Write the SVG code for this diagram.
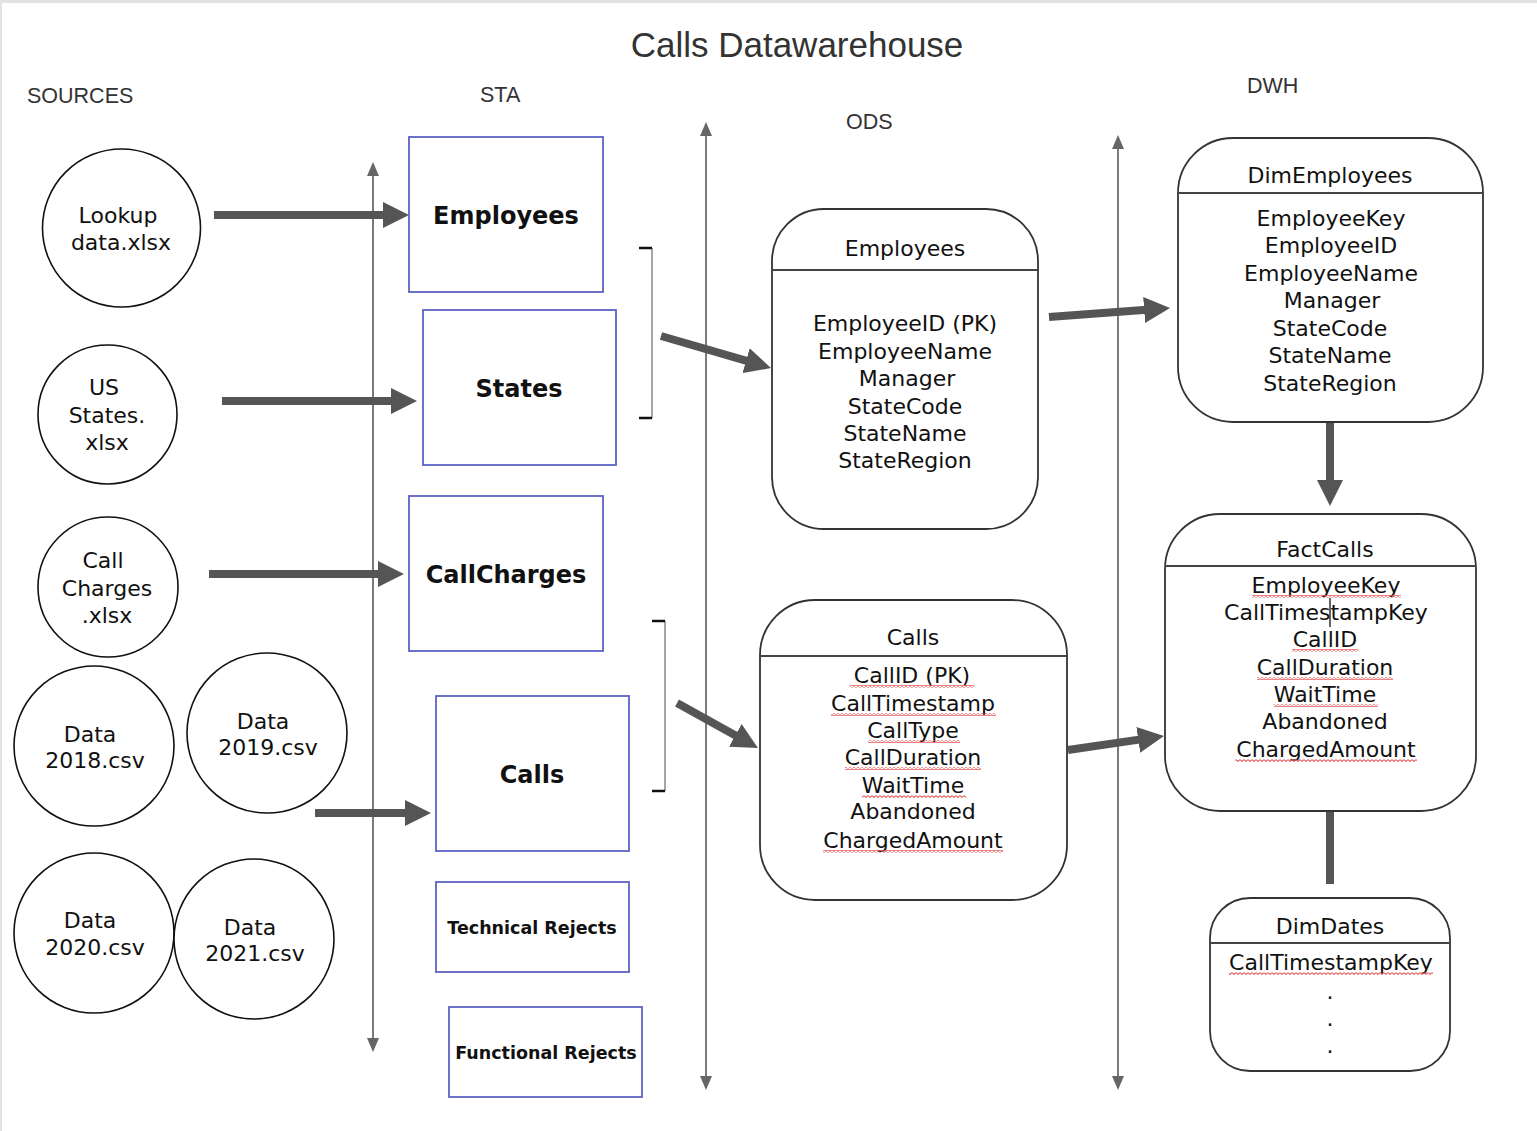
<svg xmlns="http://www.w3.org/2000/svg" width="1537" height="1131" viewBox="0 0 1537 1131">
<style>
.lbl{font-family:"Liberation Sans",Arial,sans-serif;font-size:21.5px;fill:#333}
.title{font-family:"Liberation Sans",Arial,sans-serif;font-size:35px;fill:#333}
.src{fill:#fff;stroke:#111;stroke-width:1.6}
.t{font-family:"DejaVu Sans",Verdana,sans-serif;font-size:22px;fill:#111;text-anchor:middle}
.sta{fill:#fff;stroke:#5c62c4;stroke-width:1.8}
.b{font-family:"DejaVu Sans",Verdana,sans-serif;font-weight:bold;font-size:24px;fill:#111;text-anchor:middle}
.bs{font-family:"DejaVu Sans",Verdana,sans-serif;font-weight:bold;font-size:17.5px;fill:#111;text-anchor:middle}
.ent{fill:#fff;stroke:#333;stroke-width:1.8}
.hdr{stroke:#444;stroke-width:1.8}
.axis{stroke:#7a7a7a;stroke-width:2;fill:none}
.thick{stroke:#555;stroke-width:8;fill:none}
.brk{stroke:#888;stroke-width:1.5;fill:none}
.tick{stroke:#111;stroke-width:2.5}
.sq{fill:url(#sq)}
</style>
<defs>
<marker id="ah" viewBox="0 0 26 26" markerWidth="26" markerHeight="26" refX="6" refY="13" markerUnits="userSpaceOnUse" orient="auto"><path d="M0,0 L26,13 L0,26 z" fill="#555"/></marker>
<marker id="ax" viewBox="0 0 14 12" markerWidth="14" markerHeight="12" refX="4" refY="6" markerUnits="userSpaceOnUse" orient="auto-start-reverse"><path d="M0,0 L14,6 L0,12 z" fill="#666"/></marker>
<pattern id="sq" width="4" height="3" patternUnits="userSpaceOnUse"><path d="M0,0.6 L2,2.4 L4,0.6" stroke="#e85a5a" stroke-width="1.1" fill="none"/></pattern>
</defs>
<rect x="0" y="0" width="1537" height="1131" fill="#fff"/>
<line x1="0" y1="1.5" x2="1537" y2="1.5" stroke="#e2e2e2" stroke-width="3"/>
<line x1="1" y1="0" x2="1" y2="1131" stroke="#e2e2e2" stroke-width="2"/>

<text class="title" x="797" y="57" text-anchor="middle">Calls Datawarehouse</text>
<text class="lbl" x="27" y="103">SOURCES</text>
<text class="lbl" x="480" y="102">STA</text>
<text class="lbl" x="846" y="129">ODS</text>
<text class="lbl" x="1247" y="93">DWH</text>

<g id="connectors">
<line class="axis" x1="373" y1="172" x2="373" y2="1042" marker-start="url(#ax)" marker-end="url(#ax)"/>
<line class="axis" x1="706" y1="132" x2="706" y2="1080" marker-start="url(#ax)" marker-end="url(#ax)"/>
<line class="axis" x1="1118" y1="145" x2="1118" y2="1080" marker-start="url(#ax)" marker-end="url(#ax)"/>
<line class="thick" x1="214" y1="215" x2="389" y2="215" marker-end="url(#ah)"/>
<line class="thick" x1="222" y1="401" x2="397" y2="401" marker-end="url(#ah)"/>
<line class="thick" x1="209" y1="574" x2="384" y2="574" marker-end="url(#ah)"/>
<line class="thick" x1="315" y1="813" x2="411" y2="813" marker-end="url(#ah)"/>
<line class="thick" x1="661" y1="336" x2="751.8" y2="362.4" marker-end="url(#ah)"/>
<line class="thick" x1="677" y1="703" x2="740.5" y2="738.3" marker-end="url(#ah)"/>
<line class="thick" x1="1049" y1="317" x2="1150.1" y2="309.5" marker-end="url(#ah)"/>
<line class="thick" x1="1068" y1="750" x2="1144.2" y2="738.9" marker-end="url(#ah)"/>
<line class="thick" x1="1330" y1="423" x2="1330" y2="486" marker-end="url(#ah)"/>
<line class="thick" x1="1330" y1="811" x2="1330" y2="884"/>
<path class="brk" d="M652,248 V418"/>
<line class="tick" x1="639" y1="248" x2="652" y2="248"/>
<line class="tick" x1="639" y1="418" x2="652" y2="418"/>
<path class="brk" d="M665,621 V791"/>
<line class="tick" x1="652" y1="621" x2="665" y2="621"/>
<line class="tick" x1="652" y1="791" x2="665" y2="791"/>
</g>

<g id="src-lookup"><circle class="src" cx="121.5" cy="228" r="79"/><text class="t" x="118" y="223">Lookup</text><text class="t" x="121" y="250">data.xlsx</text></g>
<g id="src-usstates"><circle class="src" cx="107.5" cy="414.5" r="69.5"/><text class="t" x="104" y="395">US</text><text class="t" x="107" y="423">States.</text><text class="t" x="107" y="450">xlsx</text></g>
<g id="src-callcharges"><circle class="src" cx="108" cy="587" r="70"/><text class="t" x="103" y="568">Call</text><text class="t" x="107" y="596">Charges</text><text class="t" x="107" y="623">.xlsx</text></g>
<g id="src-2018"><circle class="src" cx="94" cy="746" r="80"/><text class="t" x="90" y="742">Data</text><text class="t" x="95" y="768">2018.csv</text></g>
<g id="src-2019"><circle class="src" cx="267" cy="733" r="80"/><text class="t" x="263" y="729">Data</text><text class="t" x="268" y="755">2019.csv</text></g>
<g id="src-2020"><circle class="src" cx="94" cy="933" r="80"/><text class="t" x="90" y="928">Data</text><text class="t" x="95" y="955">2020.csv</text></g>
<g id="src-2021"><circle class="src" cx="254" cy="939" r="80"/><text class="t" x="250" y="935">Data</text><text class="t" x="255" y="961">2021.csv</text></g>

<g id="sta-employees"><rect class="sta" x="409" y="137" width="194" height="155"/><text class="b" x="506" y="224">Employees</text></g>
<g id="sta-states"><rect class="sta" x="423" y="310" width="193" height="155"/><text class="b" x="519" y="397">States</text></g>
<g id="sta-callcharges"><rect class="sta" x="409" y="496" width="194" height="155"/><text class="b" x="506" y="583">CallCharges</text></g>
<g id="sta-calls"><rect class="sta" x="436" y="696" width="193" height="155"/><text class="b" x="532" y="783">Calls</text></g>
<g id="sta-techrejects"><rect class="sta" x="436" y="882" width="193" height="90"/><text class="bs" x="532" y="934">Technical Rejects</text></g>
<g id="sta-funcrejects"><rect class="sta" x="449" y="1007" width="193" height="90"/><text class="bs" x="546" y="1059">Functional Rejects</text></g>

<g id="ods-employees">
<rect class="ent" x="772" y="209" width="266" height="320" rx="52"/>
<line class="hdr" x1="772" y1="270" x2="1038" y2="270"/>
<text class="t" x="905" y="256">Employees</text>
<text class="t" x="905" y="331">EmployeeID (PK)</text>
<text class="t" x="905" y="359">EmployeeName</text>
<text class="t" x="907" y="386">Manager</text>
<text class="t" x="905" y="414">StateCode</text>
<text class="t" x="905" y="441">StateName</text>
<text class="t" x="905" y="468">StateRegion</text>
</g>

<g id="ods-calls">
<rect class="ent" x="760" y="600" width="307" height="300" rx="55"/>
<line class="hdr" x1="760" y1="656" x2="1067" y2="656"/>
<text class="t" x="913" y="645">Calls</text>
<text class="t" x="912" y="683">CallID (PK)</text>
<text class="t" x="913" y="711">CallTimestamp</text>
<text class="t" x="913" y="738">CallType</text>
<text class="t" x="913" y="765">CallDuration</text>
<text class="t" x="913" y="793">WaitTime</text>
<text class="t" x="913" y="819">Abandoned</text>
<text class="t" x="913" y="848">ChargedAmount</text>
<rect class="sq" x="850" y="685" width="124" height="3"/>
<rect class="sq" x="831" y="713" width="165" height="3"/>
<rect class="sq" x="868" y="740" width="92" height="3"/>
<rect class="sq" x="845" y="767" width="136" height="3"/>
<rect class="sq" x="862" y="795" width="104" height="3"/>
<rect class="sq" x="823" y="850" width="180" height="3"/>
</g>

<g id="dim-employees">
<rect class="ent" x="1178" y="138" width="305" height="284" rx="55"/>
<line class="hdr" x1="1178" y1="193" x2="1483" y2="193"/>
<text class="t" x="1330" y="183">DimEmployees</text>
<text class="t" x="1331" y="226">EmployeeKey</text>
<text class="t" x="1331" y="253">EmployeeID</text>
<text class="t" x="1331" y="281">EmployeeName</text>
<text class="t" x="1332" y="308">Manager</text>
<text class="t" x="1330" y="336">StateCode</text>
<text class="t" x="1330" y="363">StateName</text>
<text class="t" x="1330" y="391">StateRegion</text>
</g>

<g id="fact-calls">
<rect class="ent" x="1165" y="514" width="311" height="297" rx="55"/>
<line class="hdr" x1="1165" y1="566" x2="1476" y2="566"/>
<text class="t" x="1325" y="557">FactCalls</text>
<text class="t" x="1326" y="593">EmployeeKey</text>
<text class="t" x="1326" y="620">CallTimestampKey</text>
<text class="t" x="1325" y="647">CallID</text>
<text class="t" x="1325" y="675">CallDuration</text>
<text class="t" x="1325" y="702">WaitTime</text>
<text class="t" x="1325" y="729">Abandoned</text>
<text class="t" x="1326" y="757">ChargedAmount</text>
<line x1="1330" y1="598" x2="1330" y2="627" stroke="#111" stroke-width="1.3"/>
<rect class="sq" x="1252" y="595" width="149" height="3"/>
<rect class="sq" x="1292" y="649" width="66" height="3"/>
<rect class="sq" x="1257" y="677" width="136" height="3"/>
<rect class="sq" x="1274" y="704" width="104" height="3"/>
<rect class="sq" x="1235" y="759" width="182" height="3"/>
</g>

<g id="dim-dates">
<rect class="ent" x="1210" y="898" width="240" height="173" rx="40"/>
<line class="hdr" x1="1210" y1="943" x2="1450" y2="943"/>
<text class="t" x="1330" y="934">DimDates</text>
<text class="t" x="1331" y="970">CallTimestampKey</text>
<rect class="sq" x="1229" y="972" width="204" height="3"/>
<text class="t" x="1330" y="999">.</text>
<text class="t" x="1330" y="1026">.</text>
<text class="t" x="1330" y="1053">.</text>
</g>
</svg>
